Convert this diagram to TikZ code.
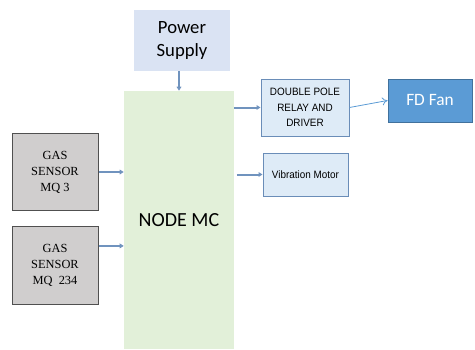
\documentclass[tikz,border=0pt]{standalone}
\usepackage{fontspec}
\usetikzlibrary{arrows.meta,calc}
\newfontfamily\blockfont{Carlito}
\newfontfamily\labelfont[FakeStretch=0.93]{Liberation Sans}
\newfontfamily\sensorfont{Liberation Serif}
\definecolor{supplyblue}{HTML}{DAE3F3}
\definecolor{nodegreen}{HTML}{E2F0D9}
\definecolor{sensorgray}{HTML}{D0CECE}
\definecolor{sensorline}{HTML}{505050}
\definecolor{boxblue}{HTML}{DEEBF7}
\definecolor{boxline}{HTML}{6A8DB8}
\definecolor{fanblue}{HTML}{5B9BD5}
\definecolor{fanline}{HTML}{41719C}
\definecolor{wire}{HTML}{7093BE}
\begin{document}
\begin{tikzpicture}[x=0.75pt,y=-0.75pt]
    % Satuan piksel gambar acuan, sumbu y dibalik (y ke bawah).
    \tikzset{
      blok/.style={inner sep=0pt,align=center},
      sensor/.style={blok,draw=sensorline,line width=0.75pt,fill=sensorgray,
        minimum width=64.5pt,minimum height=58pt,
        font=\sensorfont\fontsize{9.3}{12}\selectfont},
      keluaran/.style={blok,draw=boxline,line width=0.75pt,fill=boxblue,
        font=\labelfont\fontsize{8}{11.8}\selectfont},
      kabel/.style={draw=wire,line width=1.5pt,-{Triangle[length=3pt,width=3.5pt]}}}
    \useasboundingbox (0,0) rectangle (475,350);
    % Blok utama
    \node[blok,fill=supplyblue,minimum width=72pt,minimum height=45.75pt,
      font=\blockfont\fontsize{14}{17}\selectfont] (power) at (182,40.5) {Power\\Supply};
    \node[blok,fill=nodegreen,minimum width=82.5pt,minimum height=193.5pt,
      font=\blockfont\fontsize{15}{18}\selectfont] (nodemc) at (179,220) {NODE MC};
    % Sensor gas di kiri
    \node[sensor] (gas1) at (55,172) {GAS\\SENSOR\\MQ 3};
    \node[sensor] (gas2) at (55,265.5) {GAS\\SENSOR\\MQ\ \ 234};
    % Keluaran di kanan
    \node[keluaran,minimum width=66pt,minimum height=42.75pt] (relay) at (305,107.5)
      {DOUBLE POLE\\RELAY AND\\DRIVER};
    \node[keluaran,minimum width=63.75pt,minimum height=32.25pt] (vibmotor) at (305.5,174.5)
      {Vibration Motor};
    \node[blok,draw=fanline,line width=0.75pt,fill=fanblue,text=white,
      minimum width=63pt,minimum height=32.25pt,
      font=\blockfont\fontsize{13}{16}\selectfont] (fdfan) at (430,100.5) {FD Fan};
    % Penghubung
    \draw[kabel] (power.south -| nodemc.north) -- (nodemc.north);
    \draw[kabel] (gas1.east) -- (gas1.east -| nodemc.west);
    \coordinate (gas2out) at ($(gas2.north east)!0.25!(gas2.south east)$);
    \draw[kabel] (gas2out) -- (gas2out -| nodemc.west);
    \draw[kabel] (relay.west -| nodemc.east) -- (relay.west);
    \draw[kabel,shorten <=2pt] (vibmotor.west -| nodemc.east) -- (vibmotor.west);
    \draw[draw=fanblue,line width=0.6pt,-{To[length=4pt,width=6pt]}] (relay.east) -- (fdfan.west);
  \end{tikzpicture}
\end{document}
